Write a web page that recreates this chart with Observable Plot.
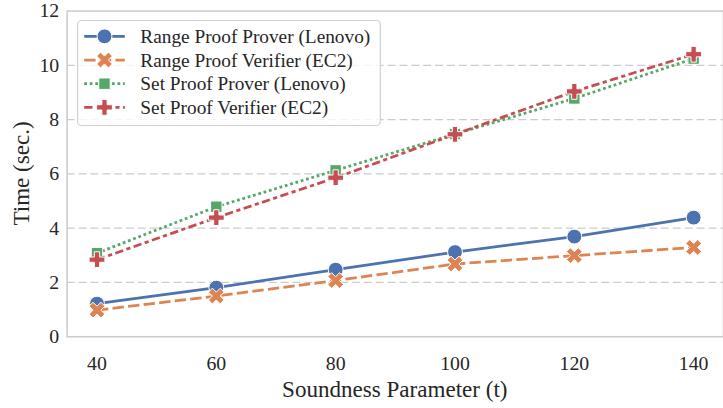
<!DOCTYPE html>
<html><head><meta charset="utf-8">
<script src="https://cdn.jsdelivr.net/npm/d3@7"></script>
<script src="https://cdn.jsdelivr.net/npm/@observablehq/plot@0.6"></script>
<style>
html,body{margin:0;padding:0;background:#fff;overflow:hidden;width:723px;height:408px}
#chart{width:723px;height:408px;overflow:hidden}
</style></head><body><div id="chart"></div>
<script>
// ---- data ----
const soundness = [40, 60, 80, 100, 120, 140];
const rangeProver   = [1.22, 1.81, 2.47, 3.12, 3.69, 4.39];
const rangeVerifier = [0.98, 1.50, 2.07, 2.68, 2.99, 3.29];
const setProver     = [3.08, 4.79, 6.13, 7.47, 8.78, 10.25];
const setVerifier   = [2.84, 4.39, 5.86, 7.46, 9.04, 10.41];
const seriesNames = ["Range Proof Prover (Lenovo)", "Range Proof Verifier (EC2)", "Set Proof Prover (Lenovo)", "Set Proof Verifier (EC2)"];
const xTicks = [40, 60, 80, 100, 120, 140];
const yTicks = [0, 2, 4, 6, 8, 10, 12];
const gridY = [2, 4, 6, 8, 10];
const xLabel = "Soundness Parameter (t)";
const yLabel = "Time (sec.)";

const FONT = "Liberation Serif, Times New Roman, serif";

// ---- symbols ----
const symX = {
  draw(ctx, size) {
    const r = Math.sqrt(size / 5) / 2;
    const pts = [[-3*r,-r],[-r,-r],[-r,-3*r],[r,-3*r],[r,-r],[3*r,-r],[3*r,r],[r,r],[r,3*r],[-r,3*r],[-r,r],[-3*r,r]];
    const c = Math.SQRT1_2;
    pts.forEach(([x, y], i) => {
      const X = (x - y) * c, Y = (x + y) * c;
      if (i) ctx.lineTo(X, Y); else ctx.moveTo(X, Y);
    });
    ctx.closePath();
  }
};

const series = [
  {name: seriesNames[0], values: rangeProver,   color: "#4C72B0", dash: "none",            symbol: d3.symbolCircle, r: 7.5},
  {name: seriesNames[1], values: rangeVerifier, color: "#DD8452", dash: "11.5,4.3",        symbol: symX,            r: 7.1},
  {name: seriesNames[2], values: setProver,     color: "#55A868", dash: "2.8,2.8",         symbol: d3.symbolSquare, r: 6.5},
  {name: seriesNames[3], values: setVerifier,   color: "#C44E52", dash: "8.4,3.5,4.2,3.5", symbol: d3.symbolCross,  r: 6.7}
];

const W = 730, H = 408;
const mL = 67.3, mT = 10.7, mB = 68.5, mR = 0;

const marks = [
  Plot.ruleY(gridY, {stroke: "#cccccc", strokeWidth: 1.3, strokeDasharray: "8,4"}),
  Plot.frame({stroke: "#cccccc", strokeWidth: 1.6}),
  ...series.flatMap(s => {
    const data = soundness.map((t, i) => ({t, v: s.values[i]}));
    return [
      Plot.line(data, {x: "t", y: "v", stroke: s.color, strokeWidth: 2.8, strokeDasharray: s.dash, strokeLinecap: "butt"}),
      Plot.dot(data, {x: "t", y: "v", fill: s.color, stroke: "white", strokeWidth: 1, symbol: s.symbol, r: s.r})
    ];
  })
];

const svg = Plot.plot({
  width: W, height: H,
  marginLeft: mL, marginTop: mT, marginBottom: mB, marginRight: mR,
  style: {fontFamily: FONT, fontSize: "20px", color: "#262626", background: "white"},
  x: {domain: [35, 145], ticks: xTicks, tickSize: 0, tickPadding: 19, label: null},
  y: {domain: [0, 12], ticks: yTicks, tickSize: 0, tickPadding: 8, label: null},
  marks
});

const root = d3.select(svg);
// ---- axis labels ----
const plotCx = mL + (W - mL - mR) / 2;
const plotCy = mT + (H - mT - mB) / 2;
root.append("text").attr("x", plotCx).attr("y", 400.5)
  .attr("text-anchor", "middle").attr("font-family", FONT).attr("font-size", 23.3).attr("fill", "#262626").text(xLabel);
root.append("text").attr("transform", `translate(29,${plotCy}) rotate(-90)`)
  .attr("text-anchor", "middle").attr("font-family", FONT).attr("font-size", 23.3).attr("fill", "#262626").text(yLabel);

// ---- legend ----
const g = root.append("g").attr("font-family", FONT).attr("font-size", 19.5).attr("text-anchor", "start");
g.append("rect").attr("x", 78.3).attr("y", 20.7).attr("width", 305.7).attr("height", 106)
  .attr("rx", 4).attr("fill", "white").attr("fill-opacity", 0.8).attr("stroke", "#d0d0d0").attr("stroke-width", 1.2);
series.forEach((s, i) => {
  const y = 36.7 + i * 23.9;
  g.append("line").attr("x1", 85).attr("x2", 126).attr("y1", y).attr("y2", y)
    .attr("stroke", s.color).attr("stroke-width", 2.8).attr("stroke-dasharray", s.dash === "none" ? null : s.dash);
  g.append("path").attr("transform", `translate(105.5,${y})`)
    .attr("d", d3.symbol(s.symbol, Math.PI * s.r * s.r)())
    .attr("fill", s.color).attr("stroke", "white").attr("stroke-width", 1);
  g.append("text").attr("x", 141.7).attr("y", y).attr("dy", "0.35em").attr("fill", "#262626").text(s.name);
});

document.getElementById("chart").appendChild(svg);
</script>
</body></html>
